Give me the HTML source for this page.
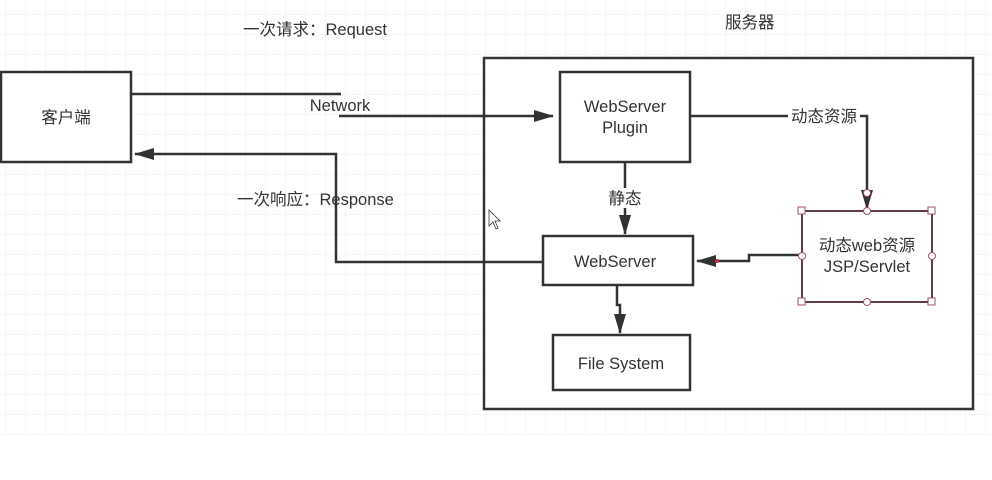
<!DOCTYPE html>
<html><head><meta charset="utf-8"><style>
body{margin:0;background:#fff}
svg{display:block}
text{font-family:"Liberation Sans","Noto Sans CJK SC",sans-serif;fill:#333;font-size:16.5px}
</style></head><body>
<svg width="992" height="480" xmlns="http://www.w3.org/2000/svg">
<defs>
<pattern id="g" width="20" height="20" patternUnits="userSpaceOnUse" x="5" y="14">
<path d="M0 0H20M0 0V20" stroke="#ececec" stroke-width="1" fill="none"/>
</pattern>
<marker id="b" markerWidth="20" markerHeight="12" refX="19" refY="6" orient="auto" markerUnits="userSpaceOnUse"><path d="M0 0L20 6L0 12Z" fill="#333"/></marker>
</defs>
<rect x="0" y="0" width="992" height="436" fill="url(#g)"/>
<g stroke="#333" stroke-width="2.5" fill="none">
<rect x="484" y="58" width="489" height="351" fill="#fff"/>
<rect x="1" y="72" width="130" height="90" fill="#fff"/>
<rect x="560" y="72" width="130" height="90" fill="#fff"/>
<rect x="543" y="236" width="150" height="49" fill="#fff"/>
<rect x="553" y="335" width="137" height="55" fill="#fff"/>
<path d="M131 94H341"/>
<path d="M339 116H553" marker-end="url(#b)"/>
<path d="M543 262H336V154H135" marker-end="url(#b)"/>
<path d="M625 162V234" marker-end="url(#b)"/>
<path d="M617 285V305H620V333" marker-end="url(#b)"/>
<path d="M690 116H867V209" marker-end="url(#b)"/>
<path d="M802 255H749V261H697" marker-end="url(#b)"/>
</g>
<rect x="802" y="211" width="130" height="91" fill="#fff" stroke="#333" stroke-width="2"/>
<rect x="802" y="211" width="130" height="91" fill="none" stroke="#a05060" stroke-width="0.8"/>
<g fill="#fff" stroke="#a05060" stroke-width="1">
<rect x="798" y="207" width="7" height="7"/><rect x="928" y="207" width="7" height="7"/>
<rect x="798" y="298" width="7" height="7"/><rect x="928" y="298" width="7" height="7"/>
<circle cx="867" cy="211" r="3.5"/><circle cx="867" cy="302" r="3.5"/>
<circle cx="802" cy="256" r="3.5"/><circle cx="932" cy="256" r="3.5"/>
<circle cx="867" cy="193" r="3.5"/>
</g>
<circle cx="717" cy="261" r="2" fill="#c03040"/>
<rect x="788" y="106" width="72" height="20" fill="#fff"/>
<rect x="605" y="188" width="40" height="20" fill="#fff"/>
<text x="66" y="123" text-anchor="middle">客户端</text>
<text x="625" y="112" text-anchor="middle">WebServer</text>
<text x="625" y="133" text-anchor="middle">Plugin</text>
<text x="615" y="267" text-anchor="middle">WebServer</text>
<text x="621" y="369" text-anchor="middle">File System</text>
<text x="867" y="251" text-anchor="middle">动态web资源</text>
<text x="867" y="272" text-anchor="middle">JSP/Servlet</text>
<text x="824" y="122" text-anchor="middle">动态资源</text>
<text x="625" y="204" text-anchor="middle">静态</text>
<text x="340" y="111" text-anchor="middle">Network</text>
<text x="243" y="35">一次请求：Request</text>
<text x="725" y="28">服务器</text>
<text x="237" y="205">一次响应：Response</text>
<path d="M489 210V226L493 222L496 229L498 228L495 221H500Z" fill="#fff" stroke="#333" stroke-width="0.8"/>
</svg>
</body></html>
